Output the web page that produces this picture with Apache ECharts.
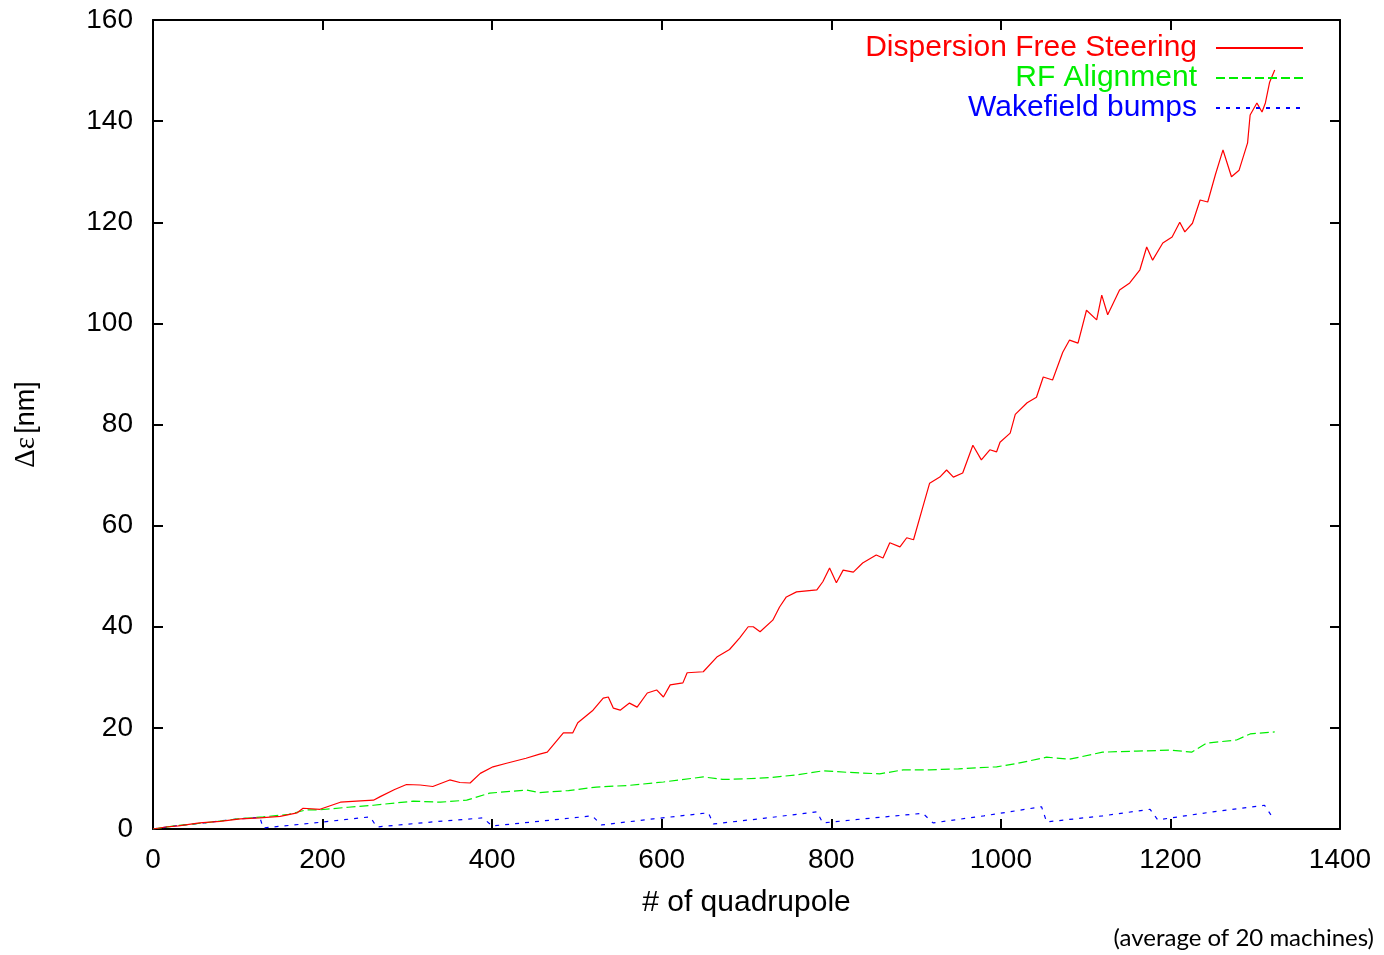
<!DOCTYPE html>
<html>
<head>
<meta charset="utf-8">
<script src="https://cdn.jsdelivr.net/npm/echarts@6/dist/echarts.min.js"></script>
<style>
  html, body { margin: 0; padding: 0; background: #ffffff; }
  #chart { width: 1384px; height: 955px; }
</style>
</head>
<body>
<div id="chart"></div>
<script>
// Emittance growth along the linac for three alignment methods.
var seriesNames = ['Dispersion Free Steering', 'RF Alignment', 'Wakefield bumps'];

var dfsX = [0, 15, 30, 55, 79, 103, 126, 150, 170, 177, 197, 221, 240, 260, 268, 285, 299, 315, 330, 350,
  362, 374, 386, 401, 417, 440, 456, 465, 484, 495, 501, 519, 531, 537, 543, 551, 562, 571, 583, 594,
  602, 610, 625, 630, 649, 665, 680, 692, 702, 708, 716, 731, 739, 747, 759, 783, 790, 798, 806, 814,
  826, 837, 853, 861, 869, 881, 889, 897, 908, 916, 928, 936, 944, 955, 967, 977, 987, 995, 999, 1011,
  1017, 1031, 1042, 1050, 1061, 1073, 1081, 1091, 1101, 1113, 1119, 1126, 1140, 1152, 1164, 1172, 1179, 1191, 1202, 1211,
  1217, 1226, 1235, 1244, 1253, 1262, 1272, 1281, 1291, 1294, 1302, 1308, 1312, 1317, 1323];
var dfsY = [0, 0.4, 0.6, 1.2, 1.5, 2.0, 2.2, 2.5, 3.2, 4.1, 3.9, 5.3, 5.5, 5.7, 6.4, 7.8, 8.8, 8.7, 8.4, 9.7,
  9.2, 9.1, 11.0, 12.3, 13.0, 14.0, 14.8, 15.2, 19.0, 19.0, 21.0, 23.5, 25.9, 26.1, 23.9, 23.5, 24.9, 24.1, 26.9, 27.5,
  26.1, 28.5, 28.9, 30.9, 31.1, 34.0, 35.5, 37.8, 40.0, 40.0, 39.0, 41.3, 43.9, 45.9, 46.9, 47.3, 48.9, 51.6, 48.7, 51.2,
  50.8, 52.6, 54.2, 53.6, 56.6, 55.8, 57.6, 57.2, 63.7, 68.4, 69.6, 71.0, 69.6, 70.4, 75.9, 73.0, 75.0, 74.6, 76.5, 78.3,
  82.0, 84.3, 85.4, 89.4, 88.8, 94.3, 96.7, 96.1, 102.6, 100.7, 105.6, 101.7, 106.6, 108.0, 110.6, 115.1, 112.5, 115.9, 117.1, 120.0,
  118.1, 119.8, 124.4, 124.0, 129.4, 134.3, 129.0, 130.3, 135.7, 141.2, 143.6, 141.8, 143.6, 147.7, 150.1];

var rfX = [0, 30, 60, 100, 130, 160, 181, 197, 230, 260, 307, 339, 370, 397, 441, 456, 490, 523, 560, 602,
  649, 672, 696, 730, 759, 790, 820, 857, 885, 916, 950, 995, 1020, 1054, 1081, 1120, 1160, 1200, 1225, 1243,
  1278, 1294, 1323];
var rfY = [0, 0.7, 1.2, 2.0, 2.4, 2.9, 3.8, 3.8, 4.3, 4.7, 5.5, 5.3, 5.7, 7.1, 7.7, 7.2, 7.6, 8.3, 8.6, 9.3,
  10.3, 9.8, 9.9, 10.2, 10.7, 11.5, 11.2, 10.9, 11.7, 11.7, 11.9, 12.3, 13.0, 14.2, 13.8, 15.2, 15.4, 15.6, 15.2, 17.0,
  17.6, 18.8, 19.2];

var wfbX = [0, 30, 60, 100, 126, 130, 190, 256, 264, 330, 389, 400, 460, 518, 529, 590, 655, 661, 720, 783,
  790, 850, 908, 920, 980, 1048, 1054, 1120, 1176, 1185, 1250, 1311, 1320];
var wfbY = [0, 0.7, 1.2, 2.0, 2.3, 0.2, 1.2, 2.4, 0.4, 1.4, 2.2, 0.6, 1.6, 2.6, 0.8, 2.0, 3.2, 1.0, 2.1, 3.4,
  1.2, 2.2, 3.1, 1.2, 2.6, 4.4, 1.4, 2.6, 3.9, 1.8, 3.4, 4.7, 2.4];

var xTicks = { min: 0, max: 1400, interval: 200 };
var yTicks = { min: 0, max: 160, interval: 20 };

function pairs(xs, ys) {
  return xs.map(function (x, i) { return [x, ys[i]]; });
}

var SANS = '"Liberation Sans", Arial, Helvetica, sans-serif';
var colors = ['#ff0000', '#00ee00', '#0000ff'];

var chart = echarts.init(document.getElementById('chart'), null, { renderer: 'canvas' });

var frameLine = { show: true, onZero: false, lineStyle: { color: '#000', width: 2 } };
var innerTick = { show: true, inside: true, length: 10, lineStyle: { color: '#000', width: 2 } };
var plainNumber = function (v) { return String(v); };

chart.setOption({
  backgroundColor: '#ffffff',
  animation: false,
  grid: { left: 153, right: 44, top: 20, bottom: 126, containLabel: false },
  legend: {
    orient: 'vertical',
    align: 'right',
    right: 75,
    top: 28,
    itemGap: 0,
    itemWidth: 87,
    itemHeight: 30,
    itemStyle: { opacity: 0, color: 'rgba(0,0,0,0)', borderWidth: 0 },
    textStyle: { fontFamily: SANS, fontSize: 30, padding: [0, 14, 0, 0] },
    data: seriesNames.map(function (n, i) {
      return { name: n, textStyle: { color: colors[i] } };
    })
  },
  xAxis: [{
    type: 'value',
    min: xTicks.min, max: xTicks.max, interval: xTicks.interval,
    position: 'bottom',
    name: '# of quadrupole',
    nameLocation: 'middle',
    nameGap: 59,
    nameTextStyle: { fontFamily: SANS, fontSize: 30, color: '#000' },
    axisLine: frameLine,
    axisTick: innerTick,
    axisLabel: { fontFamily: SANS, fontSize: 28, color: '#000', margin: 17, formatter: plainNumber },
    splitLine: { show: false }
  }, {
    type: 'value',
    min: xTicks.min, max: xTicks.max, interval: xTicks.interval,
    position: 'top',
    axisLine: frameLine,
    axisTick: innerTick,
    axisLabel: { show: false },
    splitLine: { show: false }
  }],
  yAxis: [{
    type: 'value',
    min: yTicks.min, max: yTicks.max, interval: yTicks.interval,
    position: 'left',
    name: '{g|Δε} {s|[nm]}',
    nameLocation: 'middle',
    nameGap: 112,
    nameRotate: 90,
    nameTextStyle: {
      color: '#000',
      rich: {
        g: { fontFamily: '"Liberation Serif", "DejaVu Serif", serif', fontSize: 29, color: '#000' },
        s: { fontFamily: SANS, fontSize: 27, color: '#000' }
      }
    },
    axisLine: frameLine,
    axisTick: innerTick,
    axisLabel: { fontFamily: SANS, fontSize: 28, color: '#000', margin: 20, formatter: plainNumber },
    splitLine: { show: false }
  }, {
    type: 'value',
    min: yTicks.min, max: yTicks.max, interval: yTicks.interval,
    position: 'right',
    axisLine: frameLine,
    axisTick: innerTick,
    axisLabel: { show: false },
    splitLine: { show: false }
  }],
  series: [{
    name: seriesNames[0],
    type: 'line',
    data: pairs(dfsX, dfsY),
    symbol: 'none',
    lineStyle: { color: colors[0], width: 1.2, type: 'solid' },
    itemStyle: { color: colors[0] },
    z: 3
  }, {
    name: seriesNames[1],
    type: 'line',
    data: pairs(rfX, rfY),
    symbol: 'none',
    lineStyle: { color: colors[1], width: 1.2, type: [9, 4] },
    itemStyle: { color: colors[1] },
    z: 2
  }, {
    name: seriesNames[2],
    type: 'line',
    data: pairs(wfbX, wfbY),
    symbol: 'none',
    lineStyle: { color: colors[2], width: 1.2, type: [4, 6] },
    itemStyle: { color: colors[2] },
    z: 1
  }],
  graphic: [{
    type: 'text',
    right: 10,
    bottom: 5,
    style: {
      text: '(average of 20 machines)',
      fontFamily: 'Lato, "DejaVu Sans", sans-serif',
      fontSize: 24,
      fill: '#000'
    }
  }]
});
</script>
</body>
</html>
